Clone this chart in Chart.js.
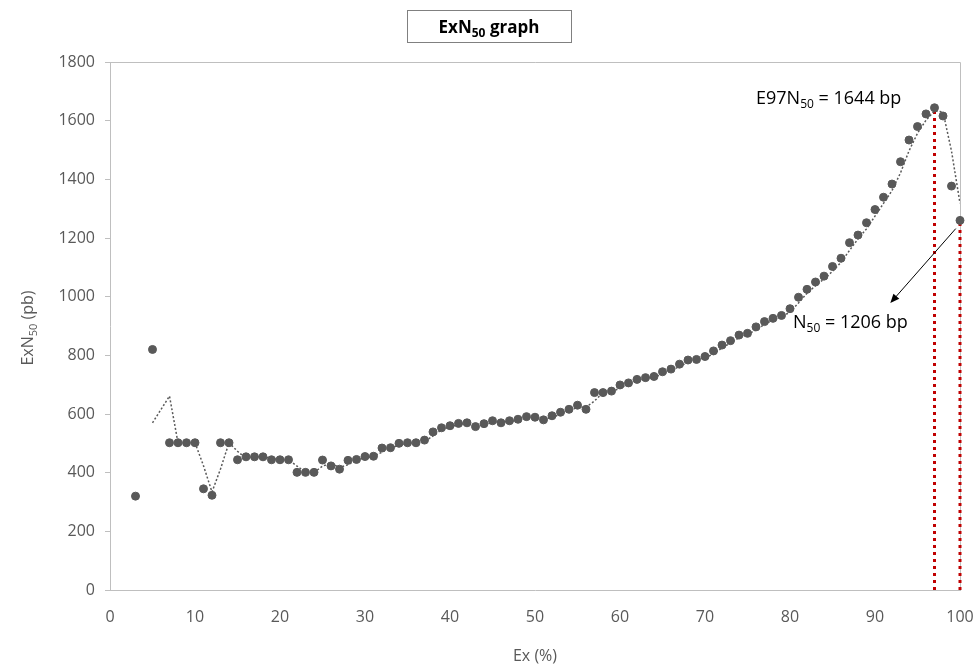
<!DOCTYPE html>
<html lang="en">
<head>
<meta charset="UTF-8">
<title>ExN50 graph</title>
<script src="https://cdn.jsdelivr.net/npm/chart.js"></script>
<style>
  body { margin: 0; background: #fff; }
  canvas { display: block; }
</style>
</head>
<body>
<canvas id="exChart" width="975" height="667"></canvas>
<script>
// Ex (%) values and ExN50 (bp)
const exValues = [3, 5, 7, 8, 9, 10, 11, 12, 13, 14, 15, 16, 17, 18, 19, 20, 21, 22, 23, 24,
  25, 26, 27, 28, 29, 30, 31, 32, 33, 34, 35, 36, 37, 38, 39, 40, 41, 42, 43, 44,
  45, 46, 47, 48, 49, 50, 51, 52, 53, 54, 55, 56, 57, 58, 59, 60, 61, 62, 63, 64,
  65, 66, 67, 68, 69, 70, 71, 72, 73, 74, 75, 76, 77, 78, 79, 80, 81, 82, 83, 84,
  85, 86, 87, 88, 89, 90, 91, 92, 93, 94, 95, 96, 97, 98, 99, 100];
const n50Values = [320, 820, 502, 502, 502, 502, 345, 323, 502, 502, 444, 454, 454, 454, 444, 444, 444, 401, 401, 401,
  443, 423, 412, 442, 445, 455, 456, 484, 485, 500, 502, 502, 511, 539, 553, 560, 568, 570, 557, 567,
  577, 570, 577, 582, 591, 589, 580, 594, 606, 616, 630, 616, 673, 673, 678, 699, 706, 718, 724, 728,
  744, 753, 770, 784, 786, 796, 815, 835, 850, 869, 875, 897, 915, 926, 936, 959, 998, 1025, 1050, 1070,
  1103, 1131, 1184, 1210, 1252, 1297, 1339, 1384, 1460, 1534, 1580, 1623, 1644, 1616, 1377, 1260];

// marked points (E97N50 and N50)
const markerX = [97, 100];
const markerY = [1644, 1260];

// arrow pointing at the N50 label, in data units
const arrowFrom = [99.5, 1232];
const arrowTo = [91.8, 978];

const yTicks = [0, 200, 400, 600, 800, 1000, 1200, 1400, 1600, 1800];

const points = exValues.map((x, i) => ({ x: x, y: n50Values[i] }));

// 2-period moving average trendline, as in the original
const trend = [];
for (let i = 1; i < exValues.length; i++) {
  trend.push({ x: exValues[i], y: (n50Values[i - 1] + n50Values[i]) / 2 });
}

const markerSets = markerX.map((x, i) => ({
  data: [{ x: x, y: 0 }, { x: x, y: markerY[i] }],
  showLine: true,
  borderColor: '#C00000',
  borderWidth: 3,
  borderDash: [3, 4],
  pointRadius: 0,
  clip: false,
  order: 3
}));

// draws text with subscript parts: [[text, isSub], ...]
function subText(ctx, parts, x, y, size, weight, align) {
  const big = weight + ' ' + size + 'px "Open Sans", sans-serif';
  const small = weight + ' ' + Math.round(size * 0.68) + 'px "Open Sans", sans-serif';
  let total = 0;
  parts.forEach(p => { ctx.font = p[1] ? small : big; total += ctx.measureText(p[0]).width; });
  let cx = align === 'center' ? x - total / 2 : x;
  ctx.textAlign = 'left';
  ctx.textBaseline = 'alphabetic';
  parts.forEach(p => {
    ctx.font = p[1] ? small : big;
    ctx.fillText(p[0], cx, p[1] ? y + size * 0.22 : y);
    cx += ctx.measureText(p[0]).width;
  });
}

const extras = {
  id: 'extras',
  beforeDatasetsDraw(chart) {
    // plot box (top and right sides), under the marks
    const ctx = chart.ctx;
    const a = chart.chartArea;
    ctx.save();
    ctx.strokeStyle = '#BFBFBF';
    ctx.lineWidth = 1;
    ctx.beginPath();
    ctx.moveTo(a.left, a.top + 0.5);
    ctx.lineTo(a.right + 0.5, a.top + 0.5);
    ctx.lineTo(a.right + 0.5, a.bottom);
    ctx.stroke();
    ctx.restore();
  },
  afterDraw(chart) {
    const ctx = chart.ctx;
    const xs = chart.scales.x, ys = chart.scales.y;
    ctx.save();

    // title box
    ctx.strokeStyle = '#808080';
    ctx.lineWidth = 1;
    ctx.strokeRect(407.5, 10.5, 164, 32);
    ctx.fillStyle = '#000';
    subText(ctx, [['ExN', false], ['50', true], [' graph', false]], 489, 33, 17, 'bold', 'center');

    // axis titles
    ctx.fillStyle = '#595959';
    subText(ctx, [['Ex (%)', false]], 535, 661, 16, 'normal', 'center');
    ctx.save();
    ctx.translate(33, 328);
    ctx.rotate(-Math.PI / 2);
    subText(ctx, [['ExN', false], ['50', true], [' (pb)', false]], 0, 0, 16, 'normal', 'center');
    ctx.restore();

    // annotations
    ctx.fillStyle = '#000';
    subText(ctx, [['E97N', false], ['50', true], [' = 1644 bp', false]], 756, 104, 18, 'normal', 'left');
    subText(ctx, [['N', false], ['50', true], [' = 1206 bp', false]], 793, 328, 18, 'normal', 'left');

    // arrow
    const x1 = xs.getPixelForValue(arrowFrom[0]), y1 = ys.getPixelForValue(arrowFrom[1]);
    const x2 = xs.getPixelForValue(arrowTo[0]), y2 = ys.getPixelForValue(arrowTo[1]);
    const ang = Math.atan2(y2 - y1, x2 - x1);
    ctx.strokeStyle = '#000';
    ctx.lineWidth = 1;
    ctx.beginPath();
    ctx.moveTo(x1, y1);
    ctx.lineTo(x2 - 6 * Math.cos(ang), y2 - 6 * Math.sin(ang));
    ctx.stroke();
    ctx.beginPath();
    ctx.moveTo(x2, y2);
    ctx.lineTo(x2 - 10 * Math.cos(ang - 0.4), y2 - 10 * Math.sin(ang - 0.4));
    ctx.lineTo(x2 - 10 * Math.cos(ang + 0.4), y2 - 10 * Math.sin(ang + 0.4));
    ctx.closePath();
    ctx.fill();

    ctx.restore();
  }
};

Chart.defaults.font.family = '"Open Sans", sans-serif';
Chart.defaults.font.size = 16;
Chart.defaults.color = '#595959';

new Chart(document.getElementById('exChart'), {
  type: 'scatter',
  data: {
    datasets: [
      {
        data: points,
        backgroundColor: '#595959',
        borderColor: '#595959',
        pointRadius: 4,
        pointHoverRadius: 4,
        clip: false,
        order: 1
      },
      {
        data: trend,
        showLine: true,
        borderColor: '#595959',
        borderWidth: 1.5,
        borderDash: [2, 2],
        pointRadius: 0,
        order: 2
      },
      ...markerSets
    ]
  },
  options: {
    responsive: false,
    animation: false,
    layout: { padding: { left: 0, right: 15, top: 62, bottom: 0 } },
    plugins: {
      legend: { display: false },
      tooltip: { enabled: false }
    },
    scales: {
      x: {
        type: 'linear',
        min: 0,
        max: 100,
        grid: { display: false, drawTicks: false },
        border: { display: true, color: '#BFBFBF' },
        ticks: { stepSize: 10, padding: 18 },
        afterFit(scale) {
          scale.height = 77;
          scale.paddingLeft = 0;
          scale.paddingRight = 0;
        }
      },
      y: {
        min: 0,
        max: 1800,
        afterBuildTicks(scale) { scale.ticks = yTicks.map(v => ({ value: v })); },
        grid: { drawOnChartArea: false, drawTicks: true, tickLength: 5, color: '#BFBFBF' },
        border: { display: true, color: '#BFBFBF' },
        ticks: { padding: 10, callback: v => String(v) },
        afterFit(scale) {
          scale.width = 110;
          scale.paddingTop = 0;
          scale.paddingBottom = 0;
        }
      }
    }
  },
  plugins: [extras]
});
</script>
</body>
</html>
